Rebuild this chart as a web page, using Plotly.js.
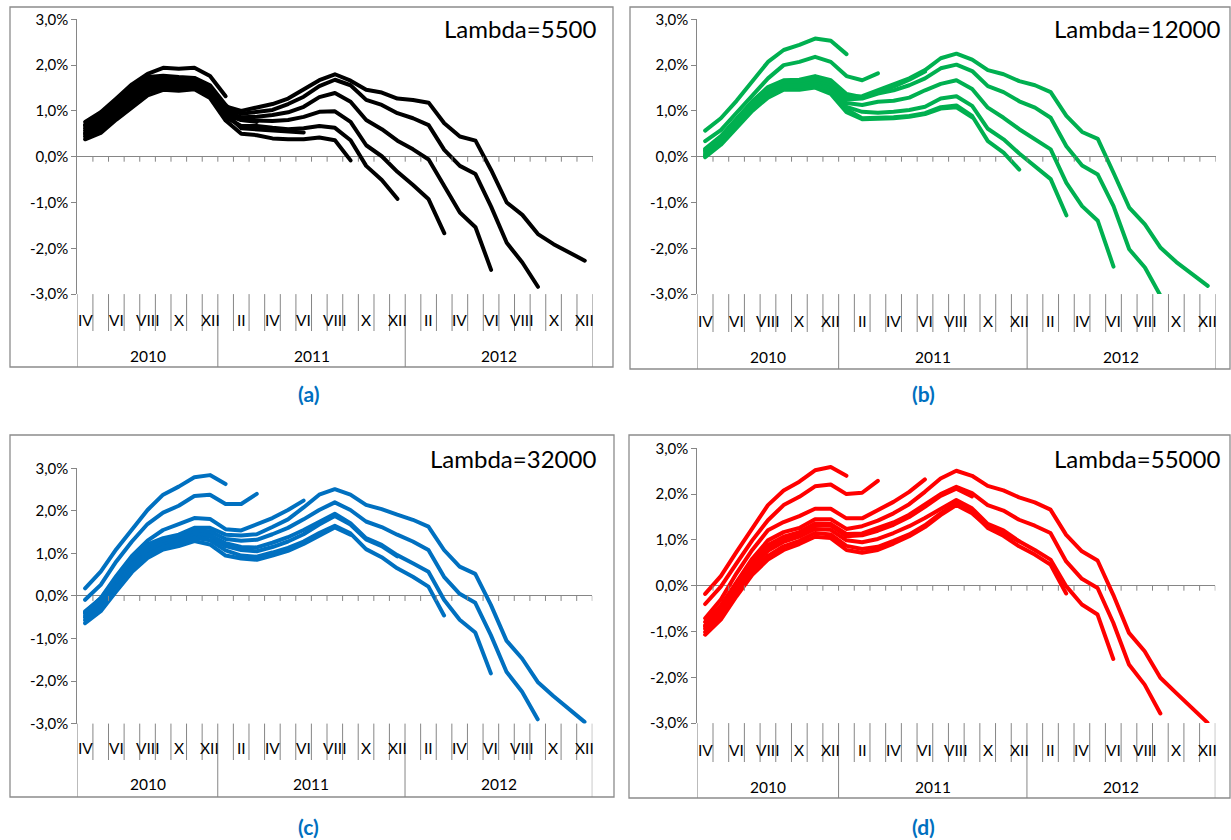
<!DOCTYPE html>
<html>
<head>
<meta charset="utf-8">
<script src="https://cdn.plot.ly/plotly-3.0.1.min.js"></script>
<style>
  html, body { margin: 0; padding: 0; background: #ffffff; }
  #chart { width: 1231px; height: 840px; }
  path.js-line { stroke-linejoin: round !important; stroke-linecap: round !important; }
</style>
</head>
<body>
<div id="chart"></div>
<script>
// ---- categories ----
const years = ['2010', '2011', '2012'];
const months2010 = ['IV', 'V', 'VI', 'VII', 'VIII', 'IX', 'X', 'XI', 'XII'];
const monthsFullYear = ['I', 'II', 'III', 'IV', 'V', 'VI', 'VII', 'VIII', 'IX', 'X', 'XI', 'XII'];

// ---- y-axis ticks ----
const yTickVals = [-3, -2, -1, 0, 1, 2, 3];
const yTickText = ['-3,0%', '-2,0%', '-1,0%', '0,0%', '1,0%', '2,0%', '3,0%'];

// ---- panel labels ----
const lambdaLabels = ['Lambda=5500', 'Lambda=12000', 'Lambda=32000', 'Lambda=55000'];
const panelCaptions = ['(a)', '(b)', '(c)', '(d)'];

// ---- estimates per data vintage (each vintage ends one step later), % ----
const lambda5500 = [
  [0.76, 0.97, 1.27, 1.58, 1.81, 1.94, 1.92, 1.94, 1.76, 1.32],
  [0.70, 0.92, 1.22, 1.52, 1.74, 1.77, 1.74, 1.72, 1.56, 1.13, 0.80, 0.76],
  [0.52, 0.70, 0.99, 1.28, 1.52, 1.60, 1.58, 1.58, 1.41, 0.94, 0.62, 0.60, 0.57, 0.55, 0.53],
  [0.38, 0.52, 0.81, 1.08, 1.34, 1.46, 1.44, 1.47, 1.28, 0.79, 0.50, 0.47, 0.40, 0.38, 0.38, 0.42, 0.36, -0.08],
  [0.44, 0.60, 0.89, 1.17, 1.42, 1.52, 1.50, 1.52, 1.34, 0.86, 0.67, 0.67, 0.63, 0.60, 0.62, 0.67, 0.63, 0.36, -0.20, -0.51, -0.92],
  [0.49, 0.66, 0.95, 1.23, 1.48, 1.57, 1.55, 1.56, 1.38, 0.91, 0.80, 0.79, 0.78, 0.80, 0.87, 0.98, 0.99, 0.76, 0.25, 0.01, -0.33, -0.62, -0.93, -1.67],
  [0.57, 0.76, 1.06, 1.34, 1.58, 1.65, 1.62, 1.62, 1.45, 0.99, 0.86, 0.87, 0.91, 0.97, 1.09, 1.30, 1.39, 1.20, 0.80, 0.60, 0.35, 0.16, -0.06, -0.66, -1.22, -1.54, -2.47],
  [0.62, 0.82, 1.12, 1.41, 1.64, 1.69, 1.67, 1.66, 1.49, 1.05, 0.94, 0.98, 1.02, 1.15, 1.31, 1.54, 1.68, 1.56, 1.24, 1.13, 0.95, 0.84, 0.69, 0.15, -0.20, -0.38, -1.09, -1.88, -2.31, -2.84],
  [0.67, 0.88, 1.18, 1.48, 1.70, 1.74, 1.71, 1.70, 1.53, 1.10, 1.00, 1.08, 1.15, 1.27, 1.46, 1.67, 1.80, 1.66, 1.46, 1.40, 1.27, 1.24, 1.18, 0.73, 0.44, 0.35, -0.29, -1.00, -1.27, -1.69, -1.91, -2.10, -2.27]
];

const lambda12000 = [
  [0.57, 0.84, 1.22, 1.66, 2.07, 2.33, 2.44, 2.58, 2.53, 2.24],
  [0.34, 0.58, 0.96, 1.35, 1.71, 2.00, 2.07, 2.18, 2.07, 1.76, 1.67, 1.82],
  [0.17, 0.45, 0.83, 1.21, 1.52, 1.67, 1.68, 1.76, 1.67, 1.37, 1.30, 1.42, 1.53, 1.68, 1.86],
  [-0.01, 0.26, 0.63, 1.00, 1.29, 1.46, 1.46, 1.51, 1.37, 0.97, 0.82, 0.82, 0.84, 0.87, 0.93, 1.05, 1.08, 0.86],
  [0.02, 0.30, 0.66, 1.03, 1.33, 1.49, 1.49, 1.55, 1.42, 1.03, 0.84, 0.84, 0.86, 0.89, 0.95, 1.08, 1.12, 0.89, 0.34, 0.09, -0.28],
  [0.04, 0.33, 0.69, 1.06, 1.36, 1.52, 1.53, 1.58, 1.46, 1.09, 0.98, 0.96, 0.98, 1.02, 1.09, 1.27, 1.32, 1.11, 0.61, 0.38, 0.07, -0.20, -0.49, -1.28],
  [0.08, 0.36, 0.73, 1.11, 1.41, 1.57, 1.57, 1.64, 1.52, 1.17, 1.13, 1.20, 1.22, 1.29, 1.45, 1.59, 1.67, 1.48, 1.07, 0.85, 0.60, 0.38, 0.16, -0.57, -1.08, -1.40, -2.40],
  [0.12, 0.39, 0.77, 1.15, 1.45, 1.61, 1.61, 1.68, 1.58, 1.25, 1.27, 1.38, 1.45, 1.56, 1.71, 1.93, 2.01, 1.87, 1.54, 1.41, 1.21, 1.07, 0.85, 0.23, -0.19, -0.39, -1.08, -2.02, -2.42, -3.04],
  [0.14, 0.42, 0.80, 1.18, 1.49, 1.64, 1.65, 1.72, 1.63, 1.31, 1.32, 1.45, 1.56, 1.71, 1.89, 2.15, 2.25, 2.12, 1.89, 1.80, 1.65, 1.56, 1.41, 0.89, 0.54, 0.39, -0.35, -1.11, -1.48, -1.99, -2.30, -2.57, -2.82]
];

const lambda32000 = [
  [0.18, 0.57, 1.10, 1.57, 2.02, 2.38, 2.57, 2.79, 2.84, 2.63],
  [-0.09, 0.26, 0.81, 1.28, 1.69, 1.96, 2.12, 2.35, 2.38, 2.16, 2.16, 2.40],
  [-0.39, -0.05, 0.47, 0.94, 1.30, 1.55, 1.69, 1.83, 1.81, 1.57, 1.54, 1.69, 1.83, 2.02, 2.24],
  [-0.64, -0.36, 0.11, 0.56, 0.89, 1.09, 1.17, 1.29, 1.21, 0.95, 0.88, 0.85, 0.95, 1.06, 1.22, 1.42, 1.61, 1.44],
  [-0.51, -0.23, 0.25, 0.70, 1.03, 1.21, 1.29, 1.43, 1.39, 1.17, 1.08, 1.05, 1.15, 1.28, 1.45, 1.68, 1.88, 1.68, 1.33, 1.17, 0.93],
  [-0.57, -0.29, 0.19, 0.64, 0.97, 1.16, 1.24, 1.37, 1.31, 1.07, 0.95, 0.92, 1.02, 1.13, 1.28, 1.48, 1.65, 1.47, 1.10, 0.91, 0.65, 0.45, 0.22, -0.46],
  [-0.47, -0.18, 0.29, 0.75, 1.08, 1.25, 1.33, 1.48, 1.44, 1.24, 1.15, 1.14, 1.25, 1.38, 1.55, 1.75, 1.93, 1.71, 1.36, 1.20, 0.96, 0.77, 0.57, -0.09, -0.56, -0.86, -1.82],
  [-0.42, -0.12, 0.35, 0.82, 1.15, 1.31, 1.39, 1.54, 1.52, 1.34, 1.30, 1.32, 1.45, 1.60, 1.80, 2.02, 2.20, 2.02, 1.75, 1.62, 1.44, 1.28, 1.08, 0.45, 0.05, -0.16, -0.92, -1.78, -2.25, -2.90],
  [-0.36, -0.06, 0.41, 0.88, 1.21, 1.36, 1.44, 1.60, 1.60, 1.44, 1.42, 1.45, 1.62, 1.80, 2.08, 2.38, 2.51, 2.38, 2.14, 2.04, 1.91, 1.79, 1.63, 1.08, 0.69, 0.52, -0.21, -1.05, -1.47, -2.02, -2.35, -2.67, -2.96]
];

const lambda55000 = [
  [-0.18, 0.21, 0.74, 1.25, 1.76, 2.08, 2.27, 2.52, 2.59, 2.40],
  [-0.40, -0.02, 0.49, 0.99, 1.43, 1.76, 1.94, 2.17, 2.21, 2.00, 2.03, 2.29],
  [-0.71, -0.30, 0.27, 0.78, 1.21, 1.39, 1.52, 1.68, 1.68, 1.47, 1.47, 1.66, 1.83, 2.05, 2.32],
  [-0.89, -0.54, -0.03, 0.47, 0.84, 1.03, 1.14, 1.32, 1.31, 1.08, 1.10, 1.20, 1.33, 1.50, 1.72, 1.96, 2.12, 1.95],
  [-1.07, -0.74, -0.23, 0.24, 0.57, 0.78, 0.91, 1.07, 1.04, 0.78, 0.72, 0.78, 0.92, 1.08, 1.28, 1.54, 1.76, 1.58, 1.28, 1.15, 0.97],
  [-1.01, -0.68, -0.17, 0.31, 0.65, 0.86, 0.98, 1.15, 1.12, 0.87, 0.80, 0.85, 0.98, 1.12, 1.32, 1.58, 1.80, 1.62, 1.26, 1.09, 0.86, 0.68, 0.46, -0.17],
  [-0.94, -0.60, -0.09, 0.40, 0.76, 0.96, 1.07, 1.24, 1.22, 0.99, 0.95, 1.02, 1.15, 1.30, 1.48, 1.68, 1.87, 1.69, 1.35, 1.21, 0.97, 0.78, 0.57, -0.01, -0.41, -0.63, -1.60],
  [-0.86, -0.51, 0.00, 0.50, 0.89, 1.07, 1.17, 1.36, 1.35, 1.13, 1.14, 1.25, 1.38, 1.55, 1.78, 2.00, 2.16, 2.02, 1.76, 1.64, 1.44, 1.31, 1.15, 0.53, 0.15, -0.05, -0.81, -1.72, -2.16, -2.79],
  [-0.79, -0.43, 0.08, 0.59, 0.99, 1.17, 1.26, 1.45, 1.45, 1.24, 1.30, 1.42, 1.58, 1.78, 2.05, 2.34, 2.51, 2.40, 2.18, 2.08, 1.93, 1.82, 1.66, 1.11, 0.75, 0.55, -0.20, -1.03, -1.43, -2.01, -2.34, -2.67, -2.99]
];

// ---- build the monthly category keys ----
const periods = [];
years.forEach(function (yr) {
  const ms = yr === '2010' ? months2010 : monthsFullYear;
  ms.forEach(function (m) { periods.push({ year: yr, month: m }); });
});
const keys = periods.map(function (p) { return p.month + ' ' + p.year; });

// year spans (first and last index of each year)
const yearSpans = years.map(function (yr) {
  const idx = [];
  periods.forEach(function (p, i) { if (p.year === yr) idx.push(i); });
  return { year: yr, first: idx[0], last: idx[idx.length - 1] };
});

// ---- page geometry (pixels) ----
const W = 1231, H = 840;
const px = function (v) { return v / W; };
const py = function (v) { return 1 - v / H; };

const panels = [
  { data: lambda5500, color: '#000000', plotX: [77.3, 592.6], plotY: [19.3, 294.1],
    frame: [10, 7, 613, 367], monthY: 320, sepY: 331, yearY: 356, textRight: 598, textY: 29, capX: 308, capY: 393 },
  { data: lambda12000, color: '#00B050', plotX: [697.3, 1215.6], plotY: [19.3, 294.1],
    frame: [630, 7, 1230, 369], monthY: 321, sepY: 332, yearY: 357, textRight: 1222, textY: 29, capX: 923, capY: 393 },
  { data: lambda32000, color: '#0070C0', plotX: [77.3, 592.3], plotY: [468.3, 723.6],
    frame: [10, 435, 614, 797], monthY: 748, sepY: 760, yearY: 784, textRight: 598, textY: 459, capX: 308, capY: 826 },
  { data: lambda55000, color: '#FF0000', plotX: [697.3, 1215.3], plotY: [448.3, 723.1],
    frame: [629, 435, 1230, 798], monthY: 750, sepY: 762, yearY: 787, textRight: 1222, textY: 459, capX: 923, capY: 826 }
];

const axisGray = '#868686';
const frameGray = '#8c8c8c';
const textFont = 'Lato, "Open Sans", sans-serif';

const traces = [];
const shapes = [];
const annotations = [];
const layout = {
  width: W, height: H,
  margin: { l: 0, r: 0, t: 0, b: 0 },
  paper_bgcolor: '#ffffff',
  plot_bgcolor: 'rgba(0,0,0,0)',
  showlegend: false,
  font: { family: textFont, color: '#000000' }
};

const yearBoundaries = yearSpans.map(function (s) { return s.first; }).concat([keys.length]);

panels.forEach(function (p, n) {
  const id = n === 0 ? '' : String(n + 1);
  const xRef = 'x' + id, yRef = 'y' + id;
  const pxPerUnit = (p.plotY[1] - p.plotY[0]) / 6;

  layout['xaxis' + id] = {
    domain: [px(p.plotX[0]), px(p.plotX[1])],
    type: 'category', categoryorder: 'array', categoryarray: keys,
    range: [-0.5, keys.length - 0.5],
    showgrid: false, zeroline: false, showline: false, ticks: '', showticklabels: false,
    anchor: yRef, fixedrange: true
  };
  layout['yaxis' + id] = {
    domain: [py(p.plotY[1]), py(p.plotY[0])],
    range: [-3, 3],
    tickvals: yTickVals, ticktext: yTickText,
    ticks: 'outside', ticklen: 5, tickwidth: 1, tickcolor: axisGray,
    showline: true, linecolor: axisGray, linewidth: 1,
    zeroline: true, zerolinecolor: axisGray, zerolinewidth: 1,
    showgrid: false,
    tickfont: { family: textFont, size: 15, color: '#000000' },
    anchor: xRef, fixedrange: true
  };

  // series: one line per data vintage
  p.data.forEach(function (series) {
    traces.push({
      type: 'scatter', mode: 'lines',
      x: keys.slice(0, series.length), y: series,
      xaxis: xRef, yaxis: yRef,
      line: { color: p.color, width: 4 },
      hoverinfo: 'skip', showlegend: false
    });
  });

  // chart-area border
  shapes.push({ type: 'rect', xref: 'paper', yref: 'paper', layer: 'below',
    x0: px(p.frame[0]), x1: px(p.frame[2]), y0: py(p.frame[3]), y1: py(p.frame[1]),
    line: { color: frameGray, width: 1.3 }, fillcolor: 'rgba(0,0,0,0)' });

  // tick marks on the zero axis, at category boundaries
  for (let k = 1; k <= keys.length; k++) {
    shapes.push({ type: 'line', xref: xRef, yref: yRef,
      x0: k - 0.5, x1: k - 0.5, y0: 0, y1: -5 / pxPerUnit,
      line: { color: axisGray, width: 1 } });
  }

  // category separators in the label area (longer at year boundaries)
  for (let k = 0; k <= keys.length; k++) {
    const isYear = yearBoundaries.indexOf(k) >= 0;
    shapes.push({ type: 'line', xref: xRef, yref: 'paper',
      x0: k - 0.5, x1: k - 0.5, y0: py(p.plotY[1]), y1: py(isYear ? p.frame[3] : p.sepY),
      line: { color: axisGray, width: 1 } });
  }

  // month labels (every second month)
  periods.forEach(function (per, i) {
    if (i % 2 !== 0) return;
    annotations.push({ xref: xRef, yref: 'paper', x: keys[i], y: py(p.monthY),
      text: per.month, showarrow: false, xanchor: 'center', yanchor: 'middle',
      font: { family: textFont, size: 15.5, color: '#000000' } });
  });

  // year labels
  yearSpans.forEach(function (s) {
    annotations.push({ xref: xRef, yref: 'paper', x: (s.first + s.last) / 2, y: py(p.yearY),
      text: s.year, showarrow: false, xanchor: 'center', yanchor: 'middle',
      font: { family: textFont, size: 15.5, color: '#000000' } });
  });

  // lambda value label
  annotations.push({ xref: 'paper', yref: 'paper', x: px(p.textRight), y: py(p.textY),
    text: lambdaLabels[n], showarrow: false, xanchor: 'right', yanchor: 'middle',
    font: { family: textFont, size: 24, color: '#000000' } });

  // panel caption
  annotations.push({ xref: 'paper', yref: 'paper', x: px(p.capX), y: py(p.capY),
    text: '<b>' + panelCaptions[n] + '</b>', showarrow: false, xanchor: 'center', yanchor: 'middle',
    font: { family: textFont, size: 21, color: '#0070C0' } });
});

layout.shapes = shapes;
layout.annotations = annotations;

Plotly.newPlot('chart', traces, layout, { staticPlot: true, displayModeBar: false });
</script>
</body>
</html>
